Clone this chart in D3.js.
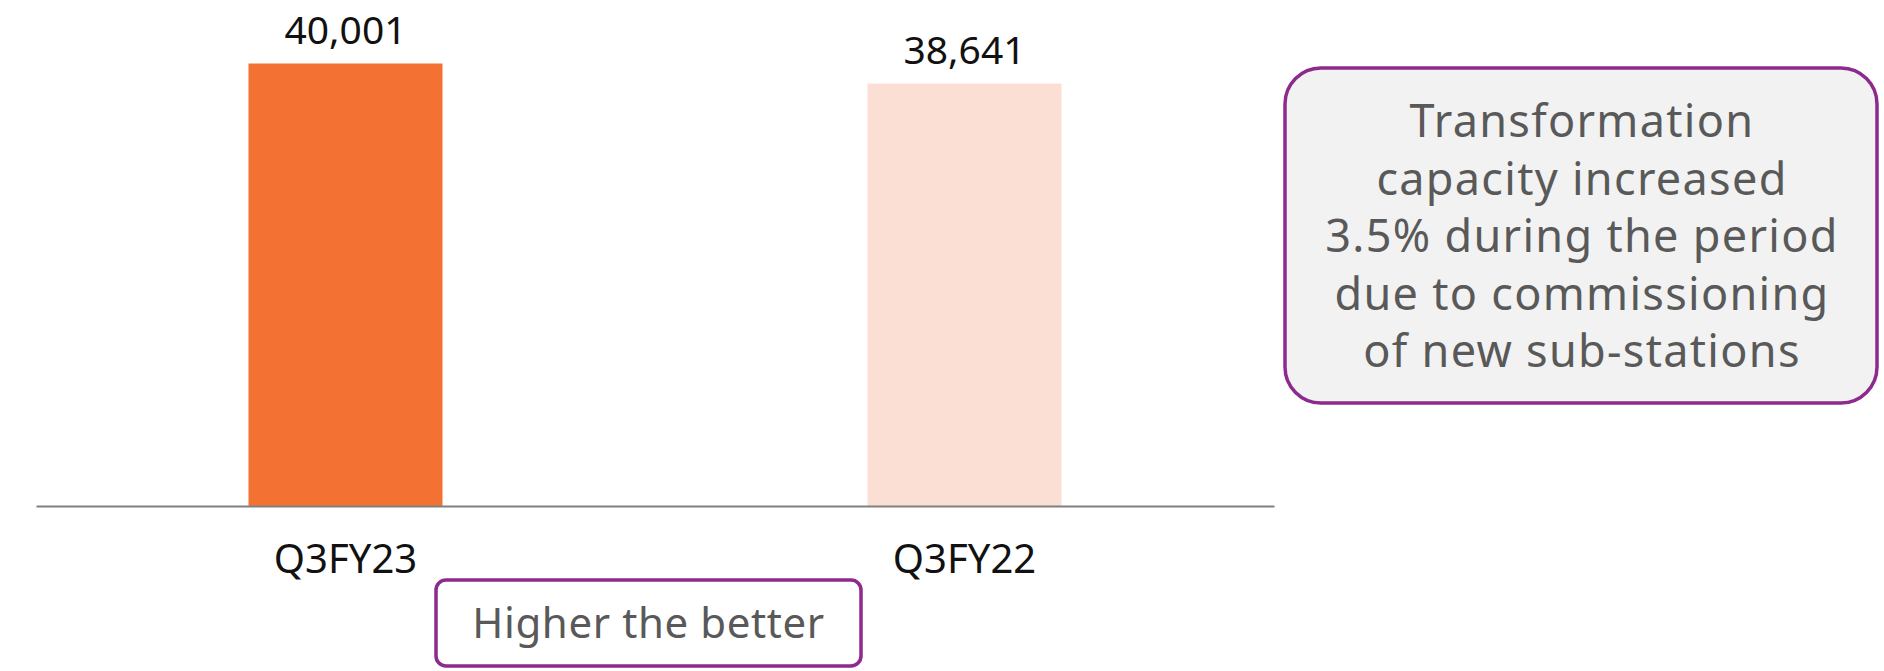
<!DOCTYPE html>
<html>
<head>
<meta charset="utf-8">
<script src="https://cdn.jsdelivr.net/npm/d3@7"></script>
<style>
  body { margin: 0; background: #fff; }
  svg { display: block; font-family: "Noto Sans", sans-serif; }
</style>
</head>
<body>
<div id="container"></div>
<script>
'use strict'
// chart data
const categories = ['Q3FY23', 'Q3FY22'];
const values = [40001, 38641];
const barColors = ['#F37233', '#FBDFD5'];
const noteLines = ['Transformation', 'capacity increased', '3.5% during the period', 'due to commissioning', 'of new sub-stations'];
const footNote = 'Higher the better';

const width = 1884;
const height = 671;

const svg = d3.select('#container').append('svg')
    .attr('width', width)
    .attr('height', height);

// scales
const x = d3.scaleBand()
    .domain(categories)
    .range([36, 1274])
    .paddingInner(0.6866)
    .paddingOuter(0.3433);

const y = d3.scaleLinear()
    .domain([10000, 40001])   // axis doesn't start at 0 in the original
    .range([506, 63.5]);

// bars
svg.selectAll('.bar')
    .data(values)
    .enter().append('rect')
    .attr('class', 'bar')
    .attr('x', (d, i) => x(categories[i]))
    .attr('y', d => y(d))
    .attr('width', x.bandwidth())
    .attr('height', d => y.range()[0] - y(d))
    .attr('fill', (d, i) => barColors[i]);

// value labels
svg.selectAll('.val')
    .data(values)
    .enter().append('text')
    .attr('class', 'val')
    .attr('x', (d, i) => x(categories[i]) + x.bandwidth() / 2)
    .attr('y', d => y(d) - 20)
    .attr('text-anchor', 'middle')
    .attr('font-size', 39)
    .attr('fill', '#111')
    .text(d => d3.format(',')(d));

// x axis
const xAxis = svg.append('g')
    .attr('transform', 'translate(0,' + y.range()[0] + ')')
    .call(d3.axisBottom(x).tickSize(0).tickPadding(39));
xAxis.select('.domain').attr('stroke', '#808080').attr('stroke-width', 2);
xAxis.selectAll('text')
    .attr('font-size', 40)
    .attr('font-family', '"Noto Sans", sans-serif')
    .attr('fill', '#111');

// "Higher the better" box
const hb = svg.append('g');
hb.append('rect')
    .attr('x', 436).attr('y', 580)
    .attr('width', 425).attr('height', 86)
    .attr('rx', 10)
    .attr('fill', '#fff')
    .attr('stroke', '#8E2A8E')
    .attr('stroke-width', 3.5);
hb.append('text')
    .attr('x', 648.5).attr('y', 638)
    .attr('text-anchor', 'middle')
    .attr('font-size', 42)
    .attr('letter-spacing', 0.6)
    .attr('fill', '#595959')
    .text(footNote);

// side note box
const note = svg.append('g');
note.append('rect')
    .attr('x', 1285).attr('y', 68)
    .attr('width', 592).attr('height', 335)
    .attr('rx', 36)
    .attr('fill', '#F2F2F2')
    .attr('stroke', '#8E2A8E')
    .attr('stroke-width', 3.5);
note.selectAll('text')
    .data(noteLines)
    .enter().append('text')
    .attr('x', 1582)
    .attr('y', (d, i) => 137 + i * 57.5)
    .attr('text-anchor', 'middle')
    .attr('font-size', 45)
    .attr('letter-spacing', 1.3)
    .attr('fill', '#595959')
    .text(d => d);
</script>
</body>
</html>
